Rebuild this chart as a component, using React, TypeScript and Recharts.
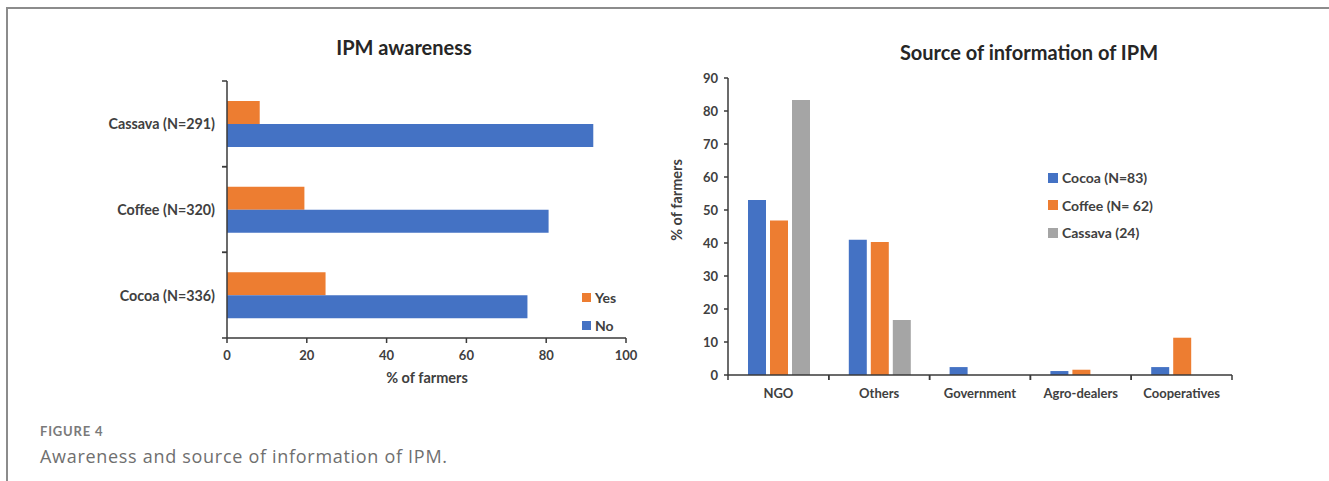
import React from 'react'
import { BarChart, Bar, XAxis, YAxis, Legend } from 'recharts'

// IPM awareness (% of farmers)
const awarenessCrops = ['Cassava (N=291)', 'Coffee (N=320)', 'Cocoa (N=336)']
const awareYes = [8.2, 19.4, 24.7]
const awareNo = [91.8, 80.6, 75.3]
const awarenessTicks = [0, 20, 40, 60, 80, 100]

// Source of information of IPM (% of farmers)
const sources = ['NGO', 'Others', 'Government', 'Agro-dealers', 'Cooperatives']
const cocoaSrc = [53.0, 41.0, 2.4, 1.2, 2.4]
const coffeeSrc = [46.8, 40.3, 0, 1.6, 11.3]
const cassavaSrc = [83.3, 16.7, 0, 0, 0]
const sourceTicks = [0, 10, 20, 30, 40, 50, 60, 70, 80, 90]

const BLUE = '#4472C4'
const ORANGE = '#ED7D31'
const GREY = '#A5A5A5'
const INK = '#404040'
const AXIS = '#3a3a3a'
const FONT = 'Lato, "Noto Sans", sans-serif'

const awarenessData = awarenessCrops.map((crop, i) => ({ crop, Yes: awareYes[i], No: awareNo[i] }))
const sourceData = sources.map((source, i) => ({
  source,
  cocoa: cocoaSrc[i],
  coffee: coffeeSrc[i],
  cassava: cassavaSrc[i],
}))

// band sizes of the two plot areas, used to put tick marks on category borders
const LEFT_BAND = (338 - 81) / 3
const RIGHT_BAND = (572 - 68) / 5

function CropTick(props: any) {
  const { x, y, payload } = props
  const axisX = x + 7
  return (
    <g>
      <line x1={axisX - 5} x2={axisX} y1={y - LEFT_BAND / 2} y2={y - LEFT_BAND / 2} stroke={AXIS} strokeWidth={1.5} />
      <line x1={axisX - 5} x2={axisX} y1={y + LEFT_BAND / 2} y2={y + LEFT_BAND / 2} stroke={AXIS} strokeWidth={1.5} />
      <text x={axisX - 12} y={y} textAnchor="end" dominantBaseline="central" fill={INK} fontSize={14.3} fontWeight={700} fontFamily={FONT}>
        {payload.value}
      </text>
    </g>
  )
}

function SourceTick(props: any) {
  const { x, y, payload } = props
  const axisY = y - 7
  return (
    <g>
      <line x1={x - RIGHT_BAND / 2} x2={x - RIGHT_BAND / 2} y1={axisY} y2={axisY + 5} stroke={AXIS} strokeWidth={1.5} />
      <line x1={x + RIGHT_BAND / 2} x2={x + RIGHT_BAND / 2} y1={axisY} y2={axisY + 5} stroke={AXIS} strokeWidth={1.5} />
      <text x={x} y={axisY + 18} textAnchor="middle" dominantBaseline="central" fill={INK} fontSize={13} fontWeight={700} fontFamily={FONT}>
        {payload.value}
      </text>
    </g>
  )
}

function makeLegend(order: string[], rowHeight: number, box: number, fontSize: number) {
  return function LegendBox({ payload }: any) {
    const items = order
      .map((name) => (payload || []).find((p: any) => p.value === name))
      .filter(Boolean)
    return (
      <div style={{ fontFamily: FONT }}>
        {items.map((item: any) => (
          <div key={item.value} style={{ display: 'flex', alignItems: 'center', height: rowHeight }}>
            <span style={{ width: box, height: box, background: item.color, display: 'inline-block', marginRight: 4 }} />
            <span style={{ fontSize, fontWeight: 700, color: INK }}>{item.value}</span>
          </div>
        ))}
      </div>
    )
  }
}

const tickStyle = { fill: INK, fontSize: 13, fontWeight: 700, fontFamily: FONT }

export default function App(): React.ReactElement {
  return (
    <div style={{ position: 'absolute', left: 0, top: 0, width: 1329, height: 481, background: '#fff', fontFamily: FONT, overflow: 'hidden' }}>
      <div
        style={{
          position: 'absolute',
          left: 6,
          top: 7,
          width: 1330,
          height: 480,
          borderTop: '2px solid #8c8c8c',
          borderLeft: '2px solid #8c8c8c',
        }}
      />

      {/* left: IPM awareness */}
      <div style={{ position: 'absolute', left: 0, top: 0 }}>
        <BarChart
          width={660}
          height={400}
          data={awarenessData}
          layout="vertical"
          margin={{ top: 81, right: 34, bottom: 32, left: 0 }}
          barCategoryGap={20}
          barGap={0}
        >
          <XAxis
            type="number"
            domain={[0, 100]}
            ticks={awarenessTicks}
            height={30}
            tickSize={5}
            tickMargin={8}
            tick={tickStyle}
            axisLine={{ stroke: AXIS, strokeWidth: 1.5 }}
            tickLine={{ stroke: AXIS, strokeWidth: 1.5 }}
          />
          <YAxis
            type="category"
            dataKey="crop"
            width={227}
            tickSize={5}
            tickMargin={2}
            tickLine={false}
            tick={<CropTick />}
            axisLine={{ stroke: AXIS, strokeWidth: 1.5 }}
          />
          <Bar dataKey="Yes" name="Yes" fill={ORANGE} isAnimationActive={false} />
          <Bar dataKey="No" name="No" fill={BLUE} isAnimationActive={false} />
          <Legend
            layout="vertical"
            align="center"
            verticalAlign="middle"
            content={makeLegend(['Yes', 'No'], 28.5, 9, 14)}
            wrapperStyle={{ position: 'absolute', left: 582, top: 283, width: 'auto', bottom: 'auto', right: 'auto' }}
          />
        </BarChart>
      </div>
      <div style={{ position: 'absolute', left: 254, width: 300, top: 37, textAlign: 'center', fontSize: 20, fontWeight: 700, lineHeight: 1, color: '#262626' }}>
        IPM awareness
      </div>
      <div style={{ position: 'absolute', left: 327, width: 200, top: 371, textAlign: 'center', fontSize: 14.5, fontWeight: 700, lineHeight: 1, color: INK }}>
        % of farmers
      </div>

      {/* right: Source of information of IPM */}
      <div style={{ position: 'absolute', left: 660, top: 0 }}>
        <BarChart
          width={669}
          height={420}
          data={sourceData}
          margin={{ top: 78, right: 97, bottom: 15, left: 0 }}
          barCategoryGap={20}
          barGap={4}
        >
          <XAxis
            dataKey="source"
            height={30}
            tickSize={5}
            tickMargin={2}
            tickLine={false}
            tick={<SourceTick />}
            axisLine={{ stroke: AXIS, strokeWidth: 1.5 }}
          />
          <YAxis
            type="number"
            domain={[0, 90]}
            ticks={sourceTicks}
            width={68}
            tickSize={4}
            tickMargin={6}
            tick={tickStyle}
            axisLine={{ stroke: AXIS, strokeWidth: 1.5 }}
            tickLine={{ stroke: AXIS, strokeWidth: 1.5 }}
          />
          <Bar dataKey="cocoa" name="Cocoa (N=83)" fill={BLUE} isAnimationActive={false} />
          <Bar dataKey="coffee" name="Coffee (N= 62)" fill={ORANGE} isAnimationActive={false} />
          <Bar dataKey="cassava" name="Cassava (24)" fill={GREY} isAnimationActive={false} />
          <Legend
            layout="vertical"
            align="center"
            verticalAlign="middle"
            content={makeLegend(['Cocoa (N=83)', 'Coffee (N= 62)', 'Cassava (24)'], 27.5, 10, 14)}
            wrapperStyle={{ position: 'absolute', left: 388, top: 164, width: 'auto', bottom: 'auto', right: 'auto' }}
          />
        </BarChart>
      </div>
      <div style={{ position: 'absolute', left: 879, width: 300, top: 42, textAlign: 'center', fontSize: 20, fontWeight: 700, lineHeight: 1, color: '#262626' }}>
        Source of information of IPM
      </div>
      <div
        style={{
          position: 'absolute',
          left: 677 - 60,
          top: 200 - 8,
          width: 120,
          height: 16,
          textAlign: 'center',
          fontSize: 14.5,
          fontWeight: 700,
          lineHeight: '16px',
          color: INK,
          transform: 'rotate(-90deg)',
        }}
      >
        % of farmers
      </div>

      {/* caption */}
      <div style={{ position: 'absolute', left: 40, top: 425, fontSize: 13, fontWeight: 700, lineHeight: 1, color: '#7a7a7a', letterSpacing: 0.8 }}>
        FIGURE 4
      </div>
      <div style={{ position: 'absolute', left: 40, top: 447, fontFamily: '"Open Sans", Lato, sans-serif', fontSize: 18, fontWeight: 400, lineHeight: 1, color: '#6f6f6f', letterSpacing: 0.7 }}>
        Awareness and source of information of IPM.
      </div>
    </div>
  )
}
